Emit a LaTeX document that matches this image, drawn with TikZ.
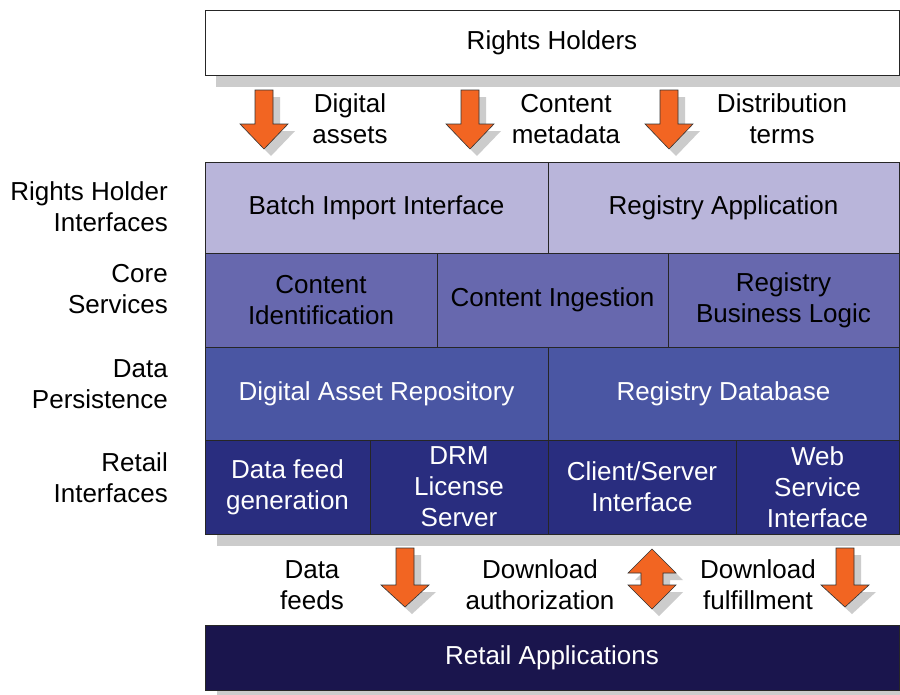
\documentclass[tikz,border=0pt]{standalone}
\usepackage{fontspec}
\setmainfont{Liberation Sans}
\definecolor{orng}{HTML}{F26522}
\definecolor{shd}{HTML}{CCCCCC}
\definecolor{rowA}{HTML}{B9B5DA}
\definecolor{rowB}{HTML}{6768AE}
\definecolor{rowC}{HTML}{4A56A3}
\definecolor{rowD}{HTML}{292D7F}
\definecolor{rowE}{HTML}{1A154D}
\newcommand{\dnarr}[5]{% cx, ytop, yhead, ytip, fill style
  \fill[shd] ({#1-9+7},{#2+7}) -- ({#1+9+7},{#2+7}) -- ({#1+9+7},{#3+7}) -- ({#1+24+7},{#3+7}) -- ({#1+7},{#4+7}) -- ({#1-24+7},{#3+7}) -- ({#1-9+7},{#3+7}) -- cycle;
  \draw[arrowshape] ({#1-9},#2) -- ({#1+9},#2) -- ({#1+9},#3) -- ({#1+24},#3) -- (#1,#4) -- ({#1-24},#3) -- ({#1-9},#3) -- cycle;}
\begin{document}
\begin{tikzpicture}[x=1pt,y=-1pt,
  txt/.style={font=\fontsize{26}{31}\selectfont, align=center, inner sep=0pt},
  cell/.style={draw=black!85, line width=0.7pt, anchor=north west, inner sep=0pt, outer sep=0pt,
    align=center, font=\fontsize{26}{31}\selectfont},
  sidelabel/.style={font=\fontsize{26}{31}\selectfont, align=right, anchor=east, inner sep=0pt},
  arrowshape/.style={fill=orng, draw=black!80, line width=0.6pt, line join=miter}]
\useasboundingbox (0,0) rectangle (900,694);
\clip (0,0) rectangle (900,694);
\fill[white] (0,0) rectangle (900,694);
% shadows
\fill[shd] (216,22) rectangle (912,87);
\fill[shd] (217,174) rectangle (912,546);
\fill[shd] (217,637) rectangle (912,702);
% Rights holders
\node[cell, fill=white, minimum width=694pt, minimum height=65pt] (rh) at (205,10) {Rights Holders};
% Row 1
\node[cell, fill=rowA, minimum width=343pt, minimum height=91pt] (bii) at (205,162) {Batch Import Interface};
\node[cell, fill=rowA, minimum width=351pt, minimum height=91pt] (ra) at (548,162) {Registry Application};
% Row 2
\node[cell, fill=rowB, minimum width=232pt, minimum height=94pt] (ci) at (205,253) {Content\\Identification};
\node[cell, fill=rowB, minimum width=231pt, minimum height=94pt] (cing) at (437,253) {Content Ingestion};
\node[cell, fill=rowB, minimum width=231pt, minimum height=94pt] (rbl) at (668,253) {Registry\\Business Logic};
% Row 3
\node[cell, fill=rowC, text=white, minimum width=343pt, minimum height=93pt] (dar) at (205,347) {Digital Asset Repository};
\node[cell, fill=rowC, text=white, minimum width=351pt, minimum height=93pt] (rdb) at (548,347) {Registry Database};
% Row 4
\node[cell, fill=rowD, text=white, minimum width=165pt, minimum height=94pt] (dfg) at (205,440) {Data feed\\generation};
\node[cell, fill=rowD, text=white, minimum width=178pt, minimum height=94pt] (drm) at (370,440) {DRM\\License\\Server};
\node[cell, fill=rowD, text=white, minimum width=188pt, minimum height=94pt] (csi) at (548,440) {Client/Server\\Interface};
\node[cell, fill=rowD, text=white, minimum width=163pt, minimum height=94pt] (wsi) at (736,440) {Web\\Service\\Interface};
% Retail applications
\node[cell, fill=rowE, text=white, minimum width=694pt, minimum height=65pt] (rapp) at (205,625) {Retail Applications};
% side labels
\node[sidelabel] (l1) at (168,207) {Rights Holder\\Interfaces};
\node[sidelabel] (l2) at (168,289) {Core\\Services};
\node[sidelabel] (l3) at (168,384) {Data\\Persistence};
\node[sidelabel] (l4) at (168,478) {Retail\\Interfaces};
% top labels
\node[txt] (t1) at (350,119) {Digital\\assets};
\node[txt] (t2) at (566,119) {Content\\metadata};
\node[txt] (t3) at (782,119) {Distribution\\terms};
% bottom labels
\node[txt] (b1) at (312,585) {Data\\feeds};
\node[txt] (b2) at (540,585) {Download\\authorization};
\node[txt] (b3) at (758,585) {Download\\fulfillment};
% top arrows
\dnarr{264}{90}{124}{149}{}
\dnarr{470}{90}{124}{149}{}
\dnarr{669}{90}{124}{149}{}
% bottom arrows
\dnarr{405}{548}{585}{607}{}
\dnarr{845}{548}{585}{607}{}
% double arrow
\fill[shd] (659,556) -- (683,580) -- (670,580) -- (670,592) -- (683,592) -- (659,616) -- (635,592) -- (648,592) -- (648,580) -- (635,580) -- cycle;
\draw[arrowshape] (652,549) -- (676,573) -- (663,573) -- (663,585) -- (676,585) -- (652,609) -- (628,585) -- (641,585) -- (641,573) -- (628,573) -- cycle;
\end{tikzpicture}
\end{document}
